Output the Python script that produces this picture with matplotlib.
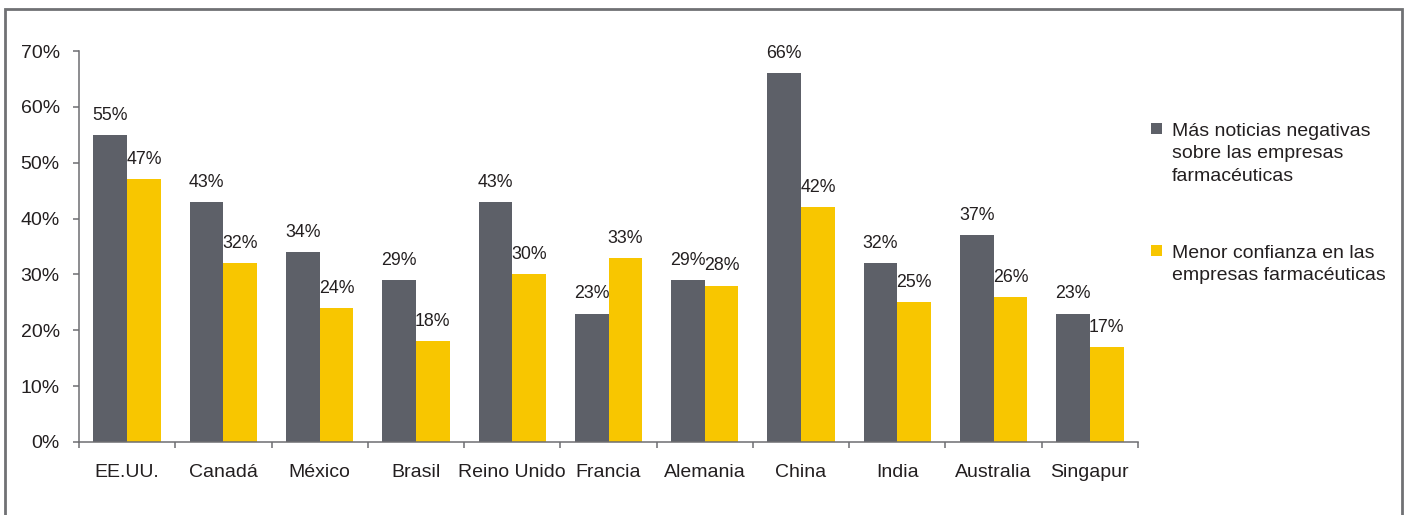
import matplotlib
matplotlib.use("Agg")
import matplotlib.pyplot as plt
from matplotlib.patches import Rectangle
from matplotlib.ticker import FixedLocator, PercentFormatter
import numpy as np

plt.rcParams['font.family'] = ['Liberation Sans', 'DejaVu Sans']

countries = ["EE.UU.", "Canadá", "México", "Brasil", "Reino Unido", "Francia",
             "Alemania", "China", "India", "Australia", "Singapur"]
more_negative_news = [55, 43, 34, 29, 43, 23, 29, 66, 32, 37, 23]
lower_trust = [47, 32, 24, 18, 30, 33, 28, 42, 25, 26, 17]
series_names = ["Más noticias negativas\nsobre las empresas\nfarmacéuticas",
                "Menor confianza en las\nempresas farmacéuticas"]
y_ticks = [0, 10, 20, 30, 40, 50, 60, 70]

GRAY = "#5d6068"
YELLOW = "#f8c600"
AXIS = "#6d6e71"
TEXT = "#231f20"

W, H = 1407, 515
fig = plt.figure(figsize=(W / 100, H / 100), dpi=100)
ax = fig.add_axes([79 / W, (H - 442) / H, (1138 - 79) / W, (442 - 51) / H])

x = np.arange(len(countries))
bw = 0.35
b1 = ax.bar(x - bw / 2, more_negative_news, bw, color=GRAY, linewidth=0)
b2 = ax.bar(x + bw / 2, lower_trust, bw, color=YELLOW, linewidth=0)

for bars, vals in ((b1, more_negative_news), (b2, lower_trust)):
    ax.bar_label(bars, labels=[f"{v}%" for v in vals], padding=8,
                 fontsize=12.8, color=TEXT)

ax.set_xlim(-0.5, len(countries) - 0.5)
ax.set_ylim(0, 70)

ax.set_yticks(y_ticks)
ax.yaxis.set_major_formatter(PercentFormatter(decimals=0))
ax.tick_params(axis='y', direction='out', length=4.3, width=1.1, color=AXIS,
               pad=9.5, labelsize=14, labelcolor=TEXT)

ax.set_xticks(x)
ax.set_xticklabels(countries)
ax.tick_params(axis='x', which='major', length=0, pad=16, labelsize=14,
               labelcolor=TEXT)
ax.xaxis.set_minor_locator(FixedLocator(np.arange(len(countries) + 1) - 0.5))
ax.tick_params(axis='x', which='minor', direction='out', length=4.3, width=1.1,
               color=AXIS)

for side in ("top", "right"):
    ax.spines[side].set_visible(False)
for side in ("left", "bottom"):
    ax.spines[side].set_color(AXIS)
    ax.spines[side].set_linewidth(1.1)

# legend drawn beside the plot
legend_entries = [(GRAY, series_names[0], 123.5), (YELLOW, series_names[1], 245.5)]
for color, label, top in legend_entries:
    fig.add_artist(Rectangle((1151 / W, (H - top - 10) / H), 11 / W, 10.5 / H,
                             transform=fig.transFigure, color=color, lw=0))
    fig.text(1172 / W, (H - top + 1) / H, label, fontsize=14, color=TEXT,
             va='top', ha='left', linespacing=1.43)

# outer frame
fig.add_artist(Rectangle((5.3 / W, -0.2), (1401.7 - 5.3) / W, (H - 9) / H + 0.2,
                         transform=fig.transFigure, fill=False,
                         edgecolor="#707174", linewidth=2.0))

fig.savefig("out.png", dpi=100)
